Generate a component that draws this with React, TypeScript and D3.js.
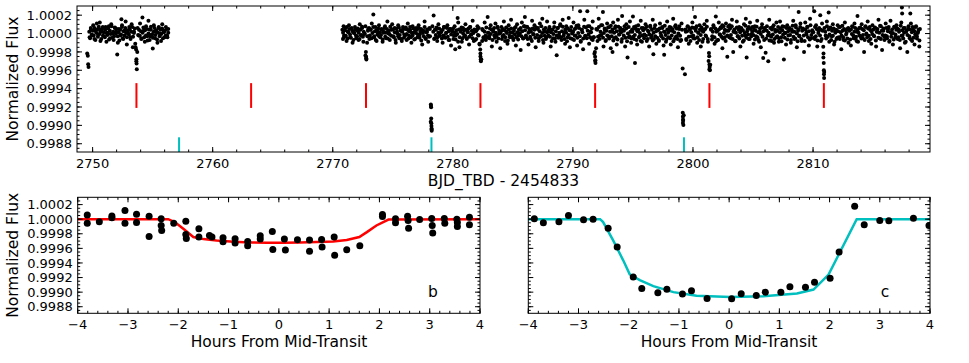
import React from "react";
import * as d3 from "d3";

// Light curve: [BJD_TBD - 2454833, flux offset in ppm]
const lightCurve: [number, number][] = [
  [2749.55, -217], [2749.6, -243], [2749.63, -334], [2749.66, -363], [2749.75, -40], [2749.85, 60], [2749.95, -20],
  [2750.05, 90], [2750.15, -60], [2750.25, 30], [2750.35, 110], [2750.45, -10], [2750.55, 50], [2750.6, 120], [2750.65, -80], [2750.75, 20], [2750.85, 70], [2750.95, -30],
  [2751.05, 40], [2751.15, -90], [2751.25, 10], [2751.35, 80], [2751.45, -50], [2751.55, 100], [2751.65, 0], [2751.75, -70], [2751.85, 60], [2751.95, 20],
  [2752.05, -228], [2752.1, -100], [2752.2, 50], [2752.3, -20], [2752.4, 155], [2752.45, 90], [2752.55, -60], [2752.65, 30], [2752.75, 130], [2752.85, -120], [2752.95, 10],
  [2753.05, 70], [2753.15, -40], [2753.25, 100], [2753.35, -150], [2753.45, 20], [2753.55, -110], [2753.62, -174], [2753.64, -301], [2753.66, -326], [2753.68, -388], [2753.75, 60], [2753.85, -20], [2753.95, 110],
  [2754.05, -60], [2754.15, 174], [2754.25, 30], [2754.35, -90], [2754.45, 80], [2754.55, -30], [2754.65, 140], [2754.75, -70], [2754.85, 40], [2754.95, -10],
  [2755.01, -163], [2755.1, 90], [2755.2, -50], [2755.3, 20], [2755.4, -100], [2755.5, 60], [2755.6, 0], [2755.7, -80], [2755.8, 100], [2755.9, 30],
  [2756.0, -40], [2756.1, 70], [2756.2, -20], [2756.3, 50],

  [2770.8, 40], [2770.85, -60], [2770.9, 80], [2770.95, -20],
  [2771.05, 60], [2771.15, -80], [2771.25, 20], [2771.35, 90], [2771.45, -40], [2771.55, 50], [2771.65, -100], [2771.75, 10], [2771.85, 70], [2771.95, -50],
  [2772.05, 30], [2772.15, -70], [2772.25, 100], [2772.35, -20], [2772.45, 60], [2772.55, -90], [2772.65, 0], [2772.72, 80], [2772.76, -200], [2772.78, -254], [2772.8, -283], [2772.88, -30], [2772.95, 50],
  [2773.05, -60], [2773.15, 40], [2773.25, 110], [2773.38, 207], [2773.45, -30], [2773.55, 70], [2773.65, -80], [2773.75, 20], [2773.85, 90], [2773.95, -40],
  [2774.05, 50], [2774.15, -90], [2774.25, 10], [2774.35, 80], [2774.45, -50], [2774.55, 130], [2774.65, 0], [2774.75, -70], [2774.85, 40], [2774.95, 100],
  [2775.05, -30], [2775.15, 60], [2775.25, -100], [2775.35, 20], [2775.45, 90], [2775.55, -50], [2775.65, 30], [2775.75, -80], [2775.85, 70], [2775.95, -10],
  [2776.05, 50], [2776.15, -70], [2776.25, 110], [2776.35, -20], [2776.45, 40], [2776.55, -100], [2776.65, 80], [2776.75, 10], [2776.85, -60], [2776.95, 60],
  [2777.05, -40], [2777.15, 90], [2777.25, -10], [2777.35, 50], [2777.45, -120], [2777.55, 30], [2777.65, 130], [2777.75, -60], [2777.85, 20], [2777.95, -90],
  [2778.05, 60], [2778.1, -30], [2778.17, -772], [2778.18, -790], [2778.19, -804], [2778.2, -924], [2778.21, -978], [2778.22, -1008], [2778.23, -1033], [2778.24, -1059],
  [2778.3, 80], [2778.4, 196], [2778.5, -50], [2778.6, 40], [2778.7, -80], [2778.8, 100], [2778.9, -20],
  [2779.05, 30], [2779.15, -100], [2779.25, 70], [2779.35, -40], [2779.45, 10], [2779.55, 90], [2779.65, -70], [2779.75, 50], [2779.85, -130], [2779.95, 20],
  [2780.05, -60], [2780.15, 80], [2780.2, -170], [2780.25, -20], [2780.4, 170], [2780.45, 120], [2780.55, -150], [2780.65, 40], [2780.75, -90], [2780.85, 60], [2780.95, -30],
  [2781.05, 100], [2781.15, -50], [2781.25, 20], [2781.35, -120], [2781.45, 70], [2781.55, -10], [2781.65, 140], [2781.75, -80], [2781.85, 30], [2781.95, -60],
  [2782.05, 80], [2782.15, -20], [2782.22, -110], [2782.28, -174], [2782.3, -217], [2782.32, -283], [2782.34, -301], [2782.45, 50], [2782.55, -40], [2782.65, 120], [2782.75, -70], [2782.9, 180], [2782.95, 10],
  [2783.05, -50], [2783.15, 90], [2783.25, -140], [2783.35, 40], [2783.45, -20], [2783.55, 110], [2783.65, -90], [2783.75, 60], [2783.85, 0], [2783.95, -160],
  [2784.05, 70], [2784.15, -30], [2784.25, 130], [2784.35, -80], [2784.45, 20], [2784.55, -110], [2784.65, 90], [2784.75, -40], [2784.85, 150], [2784.95, 10],
  [2785.05, -70], [2785.15, 60], [2785.25, -130], [2785.35, 100], [2785.45, -20], [2785.55, 40], [2785.65, -180], [2785.75, 120], [2785.85, -50], [2785.95, 80],
  [2786.0, 180], [2786.1, -40], [2786.2, 70], [2786.3, -120], [2786.4, 30], [2786.5, -60], [2786.6, 140], [2786.7, -10], [2786.8, 90], [2786.9, -150],
  [2787.05, 50], [2787.15, -80], [2787.25, 110], [2787.35, -30], [2787.45, 160], [2787.55, -100], [2787.65, 20], [2787.75, -60], [2787.85, 130], [2787.95, -20],
  [2788.05, 70], [2788.15, -140], [2788.25, 40], [2788.35, -50], [2788.45, 120], [2788.55, -90], [2788.65, -236], [2788.75, 60], [2788.85, -20], [2788.95, 100],
  [2789.05, -70], [2789.15, 150], [2789.25, 10], [2789.35, -110], [2789.45, 80], [2789.55, -40], [2789.65, 170], [2789.75, -150], [2789.85, 30], [2789.95, -60],
  [2790.05, 120], [2790.15, -20], [2790.25, 60], [2790.35, -130], [2790.45, 90], [2790.6, 242], [2790.65, -80], [2790.75, 40], [2790.85, -170], [2790.95, 150],
  [2791.05, -30], [2791.2, 242], [2791.25, 80], [2791.35, -110], [2791.45, 20], [2791.55, -60], [2791.65, 130], [2791.75, -40], [2791.83, -200], [2791.85, -254], [2791.87, -290], [2791.88, -320], [2791.95, 50],
  [2792.05, -80], [2792.15, 160], [2792.25, -20], [2792.35, 90], [2792.5, 236], [2792.55, -140], [2792.65, 40], [2792.75, -70], [2792.85, 110], [2792.95, -30],
  [2793.05, 70], [2793.15, -160], [2793.25, 20], [2793.3, -200], [2793.35, 120], [2793.45, -50], [2793.55, 80], [2793.65, -120], [2793.75, 150], [2793.85, -10], [2793.95, 60],
  [2794.05, -90], [2794.1, 192], [2794.25, 30], [2794.35, -140], [2794.45, 100], [2794.55, -262], [2794.65, -40], [2794.75, 130], [2794.85, -100], [2794.95, 20],
  [2795.0, 185], [2795.1, -60], [2795.17, -320], [2795.25, 80], [2795.35, -120], [2795.45, 40], [2795.55, -30], [2795.65, 140], [2795.75, -90], [2795.85, 60], [2795.95, -10],
  [2796.05, 100], [2796.15, -80], [2796.25, 30], [2796.35, -140], [2796.45, 70], [2796.55, -20], [2796.65, 150], [2796.7, -225], [2796.75, -60], [2796.85, 90], [2796.95, -110],
  [2797.05, 40], [2797.15, -70], [2797.25, 110], [2797.35, -20], [2797.45, 60], [2797.55, -130], [2797.6, -230], [2797.65, 20], [2797.75, -90], [2797.85, 130], [2797.95, -40],
  [2798.05, 70], [2798.15, -120], [2798.25, 30], [2798.35, 160], [2798.45, -60], [2798.55, 90], [2798.65, -30], [2798.75, -150], [2798.85, 50], [2798.95, -80],
  [2799.05, 110], [2799.14, -380], [2799.15, -863], [2799.16, -907], [2799.17, -935], [2799.18, -950], [2799.2, -997], [2799.33, -442],
  [2799.4, 20], [2799.45, -70], [2799.55, 80], [2799.65, -110], [2799.75, 40], [2799.85, -30], [2799.95, 120],
  [2800.05, -50], [2800.17, 180], [2800.25, 60], [2800.35, -100], [2800.45, 10], [2800.55, 90], [2800.65, -140], [2800.75, 30], [2800.85, -60], [2800.95, 100],
  [2801.05, -20], [2801.15, 140], [2801.25, -90], [2801.33, -211], [2801.35, -247], [2801.37, -337], [2801.39, -363], [2801.41, -399], [2801.5, 50], [2801.6, -30], [2801.7, 90], [2801.8, -110], [2801.9, 185], [2801.95, 20],
  [2802.05, -70], [2802.15, 120], [2802.25, -10], [2802.35, 60], [2802.45, -160], [2802.55, 80], [2802.65, -40], [2802.75, 110], [2802.86, -254], [2802.95, 30],
  [2803.05, 90], [2803.15, -50], [2803.25, 150], [2803.35, -200], [2803.45, 20], [2803.55, -80], [2803.65, 130], [2803.75, -30], [2803.85, 70], [2803.95, -140],
  [2804.05, 40], [2804.15, -90], [2804.25, 100], [2804.35, -20], [2804.4, 160], [2804.47, -262], [2804.55, 50], [2804.65, -60], [2804.75, 120], [2804.85, -10], [2804.95, 70],
  [2805.05, -110], [2805.15, 80], [2805.25, -30], [2805.35, 140], [2805.45, -70], [2805.55, 20], [2805.65, -150], [2805.75, 100], [2805.85, -265], [2805.95, 60],
  [2806.05, -210], [2806.15, 30], [2806.27, -301], [2806.35, 150], [2806.45, -20], [2806.55, -80], [2806.65, 70], [2806.75, -100], [2806.85, 40], [2806.95, 120],
  [2807.05, 30], [2807.15, -90], [2807.25, 130], [2807.35, -40], [2807.45, 80], [2807.57, -283], [2807.65, 10], [2807.75, -120], [2807.85, 90], [2807.95, -20],
  [2808.05, 60], [2808.15, -100], [2808.25, 20], [2808.35, 140], [2808.45, -60], [2808.55, 90], [2808.65, -150], [2808.75, 30], [2808.8, 235], [2808.85, -30], [2808.95, 110],
  [2809.05, -80], [2809.15, 40], [2809.25, -200], [2809.35, 120], [2809.45, -10], [2809.55, 70], [2809.65, -130], [2809.75, 160], [2809.85, -50], [2809.95, 20],
  [2810.1, 242], [2810.15, -60], [2810.25, 90], [2810.35, -140], [2810.45, 30], [2810.6, 200], [2810.65, -80], [2810.75, 110], [2810.85, -145], [2810.87, -217], [2810.89, -320], [2810.9, -399], [2810.91, -442], [2810.92, -483], [2810.95, 60],
  [2811.05, -20], [2811.15, 130], [2811.3, 230], [2811.35, -90], [2811.45, 60], [2811.55, -30], [2811.65, 100], [2811.75, -120], [2811.85, 20], [2811.95, -60],
  [2812.05, 90], [2812.15, -40], [2812.25, 70], [2812.35, -170], [2812.45, 30], [2812.55, -70], [2812.65, 120], [2812.75, -10], [2812.85, 50], [2812.95, -100],
  [2813.05, 40], [2813.15, -130], [2813.25, 80], [2813.35, -20], [2813.45, 110], [2813.55, -60], [2813.65, 20], [2813.7, 190], [2813.75, -90], [2813.85, 60], [2813.95, -30],
  [2814.05, 100], [2814.15, -50], [2814.25, -200], [2814.35, 70], [2814.45, -10], [2814.55, 130], [2814.65, -80], [2814.75, 40], [2814.85, -110], [2814.95, 90],
  [2815.05, -20], [2815.15, 60], [2815.25, -140], [2815.35, 20], [2815.45, 150], [2815.55, -50], [2815.65, 80], [2815.75, -180], [2815.85, 30], [2815.95, -70],
  [2816.05, 110], [2816.15, -30], [2816.25, 50], [2816.35, -90], [2816.45, 140], [2816.55, 0], [2816.65, -120], [2816.75, 70], [2816.85, -40], [2816.95, 90],
  [2817.05, -60], [2817.15, 40], [2817.25, -160], [2817.35, 120], [2817.4, 283], [2817.42, 217], [2817.45, -20], [2817.55, 60], [2817.65, -100], [2817.75, 20], [2817.85, -200], [2817.95, 80],
  [2818.05, -50], [2818.1, 217], [2818.15, 110], [2818.25, -80], [2818.35, 40], [2818.45, -120], [2818.55, 70], [2818.65, -30], [2818.75, 20], [2818.85, -140], [2818.9, 50],
];

// the dense core of the band, same units
const lightCurveCore: [number, number][] = [
  [2749.72,20],[2749.79,-50],[2749.86,40],[2749.93,-10],
  [2750.02,30],[2750.09,-20],[2750.16,60],[2750.23,-70],[2750.3,10],[2750.37,45],[2750.44,-35],[2750.51,75],[2750.58,-5],[2750.65,25],[2750.72,-60],[2750.79,50],[2750.86,-25],[2750.93,15],
  [2751.02,-40],[2751.09,70],[2751.16,5],[2751.23,-15],[2751.3,55],[2751.37,-65],[2751.44,30],[2751.51,-5],[2751.58,80],[2751.65,-45],[2751.72,20],[2751.79,-30],[2751.86,65],[2751.93,0],
  [2752.02,50],[2752.09,-30],[2752.16,15],[2752.23,-75],[2752.3,40],[2752.37,-10],[2752.44,70],[2752.51,-50],[2752.58,25],[2752.65,-20],[2752.72,60],[2752.79,5],[2752.86,-40],[2752.93,35],
  [2753.02,-10],[2753.09,45],[2753.16,-60],[2753.23,20],[2753.3,70],[2753.37,-35],[2753.44,5],[2753.51,55],[2753.58,-150],[2753.65,-280],[2753.72,-200],[2753.79,-15],[2753.86,40],[2753.93,-25],
  [2754.02,25],[2754.09,-55],[2754.16,10],[2754.23,65],[2754.3,-40],[2754.37,35],[2754.44,-20],[2754.51,50],[2754.58,-75],[2754.65,0],[2754.72,45],[2754.79,-30],[2754.86,75],[2754.93,-10],
  [2755.02,-45],[2755.09,20],[2755.16,60],[2755.23,-15],[2755.3,35],[2755.37,-65],[2755.44,10],[2755.51,70],[2755.58,-30],[2755.65,40],[2755.72,-5],[2755.79,55],[2755.86,-50],[2755.93,15],
  [2756.02,30],[2756.09,-20],[2756.16,50],[2756.23,-40],[2756.3,10],

  [2770.86,10],[2770.93,-40],
  [2771.02,35],[2771.09,-25],[2771.16,70],[2771.23,-55],[2771.3,15],[2771.37,50],[2771.44,-10],[2771.51,-45],[2771.58,60],[2771.65,25],[2771.72,-70],[2771.79,5],[2771.86,40],[2771.93,-20],
  [2772.02,-30],[2772.09,55],[2772.16,10],[2772.23,-60],[2772.3,40],[2772.37,-15],[2772.44,75],[2772.51,-35],[2772.58,20],[2772.65,-5],[2772.72,-240],[2772.79,-270],[2772.86,-100],[2772.93,30],
  [2773.02,60],[2773.09,-20],[2773.16,45],[2773.23,-50],[2773.3,5],[2773.37,70],[2773.44,-40],[2773.51,25],[2773.58,-70],[2773.65,35],[2773.72,-10],[2773.79,55],[2773.86,-30],[2773.93,15],
  [2774.02,-15],[2774.09,40],[2774.16,-65],[2774.23,20],[2774.3,60],[2774.37,-35],[2774.44,10],[2774.51,50],[2774.58,-55],[2774.65,30],[2774.72,-5],[2774.79,75],[2774.86,-25],[2774.93,45],
  [2775.02,45],[2775.09,-40],[2775.16,15],[2775.23,-70],[2775.3,55],[2775.37,0],[2775.44,-30],[2775.51,65],[2775.58,-15],[2775.65,35],[2775.72,-60],[2775.79,20],[2775.86,50],[2775.93,-45],
  [2776.02,-25],[2776.09,65],[2776.16,-5],[2776.23,40],[2776.3,-55],[2776.37,25],[2776.44,70],[2776.51,-40],[2776.58,10],[2776.65,-20],[2776.72,55],[2776.79,-65],[2776.86,30],[2776.93,5],
  [2777.02,40],[2777.09,-10],[2777.16,60],[2777.23,-45],[2777.3,20],[2777.37,-75],[2777.44,35],[2777.51,5],[2777.58,-30],[2777.65,70],[2777.72,-50],[2777.79,15],[2777.86,45],[2777.93,-20],
  [2778.02,-35],[2778.09,50],[2778.16,-960],[2778.23,-1045],[2778.37,20],[2778.44,-60],[2778.51,45],[2778.58,-15],[2778.65,65],[2778.72,-40],[2778.79,10],[2778.86,55],[2778.93,-25],
  [2779.02,15],[2779.09,-55],[2779.16,40],[2779.23,-20],[2779.3,70],[2779.37,-45],[2779.44,5],[2779.51,60],[2779.58,-35],[2779.65,25],[2779.72,-70],[2779.79,50],[2779.86,-10],[2779.93,30],
  [2780.02,55],[2780.09,-25],[2780.16,10],[2780.23,-65],[2780.3,35],[2780.37,-5],[2780.44,-90],[2780.51,45],[2780.58,-40],[2780.65,20],[2780.72,65],[2780.79,-55],[2780.86,0],[2780.93,35],
  [2781.02,-20],[2781.09,40],[2781.16,-60],[2781.23,15],[2781.3,55],[2781.37,-35],[2781.44,70],[2781.51,-10],[2781.58,30],[2781.65,-50],[2781.72,5],[2781.79,45],[2781.86,-70],[2781.93,25],
  [2782.02,45],[2782.09,-15],[2782.16,60],[2782.23,-120],[2782.3,-250],[2782.37,-280],[2782.44,-80],[2782.51,35],[2782.58,-50],[2782.65,20],[2782.72,-25],[2782.79,65],[2782.86,-40],[2782.93,10],
  [2783.02,-30],[2783.09,55],[2783.16,-5],[2783.23,40],[2783.3,-70],[2783.37,20],[2783.44,60],[2783.51,-45],[2783.58,10],[2783.65,-20],[2783.72,75],[2783.79,-55],[2783.86,30],[2783.93,0],
  [2784.02,25],[2784.09,-60],[2784.16,50],[2784.23,-15],[2784.3,35],[2784.37,-40],[2784.44,65],[2784.51,5],[2784.58,-75],[2784.65,45],[2784.72,-25],[2784.79,15],[2784.86,55],[2784.93,-35],
  [2785.02,-50],[2785.09,30],[2785.16,-10],[2785.23,70],[2785.3,-40],[2785.37,15],[2785.44,-65],[2785.51,45],[2785.58,0],[2785.65,60],[2785.72,-30],[2785.79,25],[2785.86,-55],[2785.93,80],
  [2786.02,35],[2786.09,-20],[2786.16,75],[2786.23,-60],[2786.3,10],[2786.37,50],[2786.44,-35],[2786.51,20],[2786.58,-80],[2786.65,55],[2786.72,-5],[2786.79,40],[2786.86,-45],[2786.93,65],
  [2787.02,-15],[2787.09,60],[2787.16,-50],[2787.23,25],[2787.3,-30],[2787.37,80],[2787.44,5],[2787.51,-70],[2787.58,45],[2787.65,-25],[2787.72,60],[2787.79,-40],[2787.86,15],[2787.93,30],
  [2788.02,50],[2788.09,-35],[2788.16,15],[2788.23,-80],[2788.3,40],[2788.37,-5],[2788.44,70],[2788.51,-55],[2788.58,25],[2788.65,-20],[2788.72,60],[2788.79,-45],[2788.86,10],[2788.93,85],
  [2789.02,-40],[2789.09,25],[2789.16,75],[2789.23,-20],[2789.3,-60],[2789.37,45],[2789.44,10],[2789.51,-85],[2789.58,55],[2789.65,-15],[2789.72,35],[2789.79,-50],[2789.86,70],[2789.93,0],
  [2790.02,20],[2790.09,-70],[2790.16,50],[2790.23,-25],[2790.3,85],[2790.37,-45],[2790.44,5],[2790.51,60],[2790.58,-30],[2790.65,-90],[2790.72,40],[2790.79,15],[2790.86,-55],[2790.93,75],
  [2791.02,-25],[2791.09,65],[2791.16,-50],[2791.23,30],[2791.3,-10],[2791.37,80],[2791.44,-40],[2791.51,15],[2791.58,55],[2791.65,-70],[2791.72,-40],[2791.79,-220],[2791.86,-300],[2791.93,-160],
  [2792.02,40],[2792.09,-35],[2792.16,70],[2792.23,-60],[2792.3,20],[2792.37,-15],[2792.44,90],[2792.51,-45],[2792.58,5],[2792.65,55],[2792.72,-80],[2792.79,30],[2792.86,-20],[2792.93,65],
  [2793.02,-55],[2793.09,20],[2793.16,85],[2793.23,-30],[2793.3,45],[2793.37,-75],[2793.44,10],[2793.51,60],[2793.58,-40],[2793.65,25],[2793.72,-65],[2793.79,75],[2793.86,-10],[2793.93,35],
  [2794.02,15],[2794.09,-60],[2794.16,40],[2794.23,-20],[2794.3,80],[2794.37,-45],[2794.44,55],[2794.51,-85],[2794.58,0],[2794.65,70],[2794.72,-30],[2794.79,20],[2794.86,-55],[2794.93,45],
  [2795.02,-35],[2795.09,70],[2795.16,-15],[2795.23,50],[2795.3,-70],[2795.37,25],[2795.44,90],[2795.51,-40],[2795.58,5],[2795.65,-80],[2795.72,60],[2795.79,-20],[2795.86,35],[2795.93,-50],
  [2796.02,55],[2796.09,-25],[2796.16,75],[2796.23,-60],[2796.3,20],[2796.37,-10],[2796.44,85],[2796.51,-45],[2796.58,40],[2796.65,-75],[2796.72,10],[2796.79,60],[2796.86,-30],[2796.93,25],
  [2797.02,-45],[2797.09,35],[2797.16,-80],[2797.23,55],[2797.3,5],[2797.37,-30],[2797.44,70],[2797.51,-55],[2797.58,20],[2797.65,85],[2797.72,-15],[2797.79,-65],[2797.86,45],[2797.93,10],
  [2798.02,30],[2798.09,-50],[2798.16,65],[2798.23,-20],[2798.3,45],[2798.37,-85],[2798.44,15],[2798.51,75],[2798.58,-35],[2798.65,55],[2798.72,-60],[2798.79,0],[2798.86,80],[2798.93,-25],
  [2799.02,-70],[2799.09,40],[2799.16,-975],[2799.23,-890],[2799.37,45],[2799.44,-60],[2799.51,25],[2799.58,75],[2799.65,-35],[2799.72,55],[2799.79,-80],[2799.86,15],[2799.93,65],
  [2800.02,-20],[2800.09,60],[2800.16,-55],[2800.23,30],[2800.3,80],[2800.37,-40],[2800.44,10],[2800.51,-70],[2800.58,45],[2800.65,-15],[2800.72,65],[2800.79,-90],[2800.86,20],[2800.93,40],
  [2801.02,50],[2801.09,-30],[2801.16,75],[2801.23,-60],[2801.3,-300],[2801.37,-390],[2801.44,-340],[2801.51,40],[2801.58,-65],[2801.65,20],[2801.72,70],[2801.79,-40],[2801.86,55],[2801.93,-85],
  [2802.02,25],[2802.09,-70],[2802.16,45],[2802.23,-10],[2802.3,65],[2802.37,-35],[2802.44,90],[2802.51,-55],[2802.58,5],[2802.65,40],[2802.72,-80],[2802.79,30],[2802.86,-20],[2802.93,75],
  [2803.02,-40],[2803.09,55],[2803.16,-15],[2803.23,80],[2803.3,-60],[2803.37,20],[2803.44,45],[2803.51,-85],[2803.58,10],[2803.65,65],[2803.72,-30],[2803.79,40],[2803.86,-55],[2803.93,15],
  [2804.02,60],[2804.09,-25],[2804.16,35],[2804.23,-75],[2804.3,5],[2804.37,85],[2804.44,-45],[2804.51,25],[2804.58,-10],[2804.65,70],[2804.72,-60],[2804.79,50],[2804.86,-30],[2804.93,20],
  [2805.02,-15],[2805.09,45],[2805.16,-65],[2805.23,30],[2805.3,75],[2805.37,-40],[2805.44,15],[2805.51,-90],[2805.58,55],[2805.65,-5],[2805.72,65],[2805.79,-35],[2805.86,25],[2805.93,-70],
  [2806.02,40],[2806.09,-55],[2806.16,80],[2806.23,-20],[2806.3,10],[2806.37,-75],[2806.44,60],[2806.51,-35],[2806.58,45],[2806.65,-10],[2806.72,90],[2806.79,-60],[2806.86,20],[2806.93,-40],
  [2807.02,-30],[2807.09,70],[2807.16,-50],[2807.23,15],[2807.3,55],[2807.37,-85],[2807.44,35],[2807.51,-10],[2807.58,75],[2807.65,-45],[2807.72,5],[2807.79,60],[2807.86,-65],[2807.93,25],
  [2808.02,50],[2808.09,-15],[2808.16,-70],[2808.23,40],[2808.3,85],[2808.37,-35],[2808.44,20],[2808.51,-55],[2808.58,65],[2808.65,0],[2808.72,-85],[2808.79,45],[2808.86,-25],[2808.93,70],
  [2809.02,-60],[2809.09,30],[2809.16,55],[2809.23,-20],[2809.3,-80],[2809.37,45],[2809.44,10],[2809.51,75],[2809.58,-40],[2809.65,25],[2809.72,-65],[2809.79,90],[2809.86,-15],[2809.93,35],
  [2810.02,15],[2810.09,-45],[2810.16,70],[2810.23,-30],[2810.3,50],[2810.37,-75],[2810.44,5],[2810.51,60],[2810.58,-20],[2810.65,40],[2810.72,-60],[2810.79,30],[2810.86,-260],[2810.93,-420],
  [2811.02,20],[2811.09,-55],[2811.16,80],[2811.23,-35],[2811.3,45],[2811.37,-10],[2811.44,65],[2811.51,-70],[2811.58,30],[2811.65,-25],[2811.72,55],[2811.79,-90],[2811.86,10],[2811.93,40],
  [2812.02,-45],[2812.09,25],[2812.16,70],[2812.23,-60],[2812.3,15],[2812.37,-20],[2812.44,85],[2812.51,-40],[2812.58,50],[2812.65,-75],[2812.72,35],[2812.79,5],[2812.86,-55],[2812.93,60],
  [2813.02,30],[2813.09,-65],[2813.16,45],[2813.23,-5],[2813.3,75],[2813.37,-50],[2813.44,20],[2813.51,60],[2813.58,-35],[2813.65,-85],[2813.72,40],[2813.79,10],[2813.86,-20],[2813.93,65],
  [2814.02,-55],[2814.09,50],[2814.16,-15],[2814.23,35],[2814.3,-70],[2814.37,80],[2814.44,0],[2814.51,-40],[2814.58,55],[2814.65,-25],[2814.72,70],[2814.79,-60],[2814.86,25],[2814.93,-5],
  [2815.02,45],[2815.09,-30],[2815.16,65],[2815.23,-75],[2815.3,20],[2815.37,50],[2815.44,-45],[2815.51,10],[2815.58,85],[2815.65,-60],[2815.72,30],[2815.79,-15],[2815.86,55],[2815.93,-35],
  [2816.02,-20],[2816.09,60],[2816.16,-50],[2816.23,25],[2816.3,70],[2816.37,-80],[2816.44,15],[2816.51,-35],[2816.58,45],[2816.65,5],[2816.72,-65],[2816.79,75],[2816.86,-10],[2816.93,40],
  [2817.02,55],[2817.09,-40],[2817.16,20],[2817.23,-70],[2817.3,85],[2817.37,-25],[2817.44,35],[2817.51,-55],[2817.58,10],[2817.65,60],[2817.72,-90],[2817.79,30],[2817.86,-15],[2817.93,50],
  [2818.02,-30],[2818.09,45],[2818.16,-65],[2818.23,15],[2818.3,70],[2818.37,-45],[2818.44,25],[2818.51,-10],[2818.58,80],[2818.65,-55],[2818.72,5],[2818.79,40],[2818.86,-75],
];

// transit epochs marked under the light curve
const transitsB = [2753.65, 2763.2, 2772.77, 2782.3, 2791.85, 2801.37, 2810.9];
const transitsC = [2757.2, 2778.22, 2799.25];

// phase-folded data, [hours from mid-transit, normalized flux]
const foldedB: [number, number][] = [
  [-3.81, 1.000059], [-3.81, 0.999945], [-3.57, 0.999964], [-3.32, 1.000045], [-3.32, 1.00002],
  [-3.06, 1.000118], [-3.06, 0.999945], [-2.83, 1.000068], [-2.83, 0.999955], [-2.58, 1.000041],
  [-2.58, 0.999764], [-2.34, 1.000005], [-2.34, 0.999914], [-2.33, 0.999845], [-2.09, 0.999945],
  [-1.85, 0.999973], [-1.85, 0.99979], [-1.84, 0.999736], [-1.59, 0.999868], [-1.59, 0.999755],
  [-1.38, 0.999777], [-1.33, 0.999755], [-1.11, 0.999745], [-1.11, 0.99969], [-0.87, 0.999732],
  [-0.87, 0.999673], [-0.62, 0.999695], [-0.62, 0.999636], [-0.37, 0.999773], [-0.37, 0.999727],
  [-0.13, 0.999832], [-0.12, 0.999586], [0.11, 0.999727], [0.13, 0.999577], [0.37, 0.999718],
  [0.61, 0.999714], [0.61, 0.999559], [0.85, 0.999723], [0.86, 0.999618], [1.1, 0.999755],
  [1.11, 0.999505], [1.35, 0.999582], [1.61, 0.999636], [2.06, 1.000064], [2.06, 1.000036],
  [2.32, 1.000005], [2.32, 0.99995], [2.56, 1.000041], [2.57, 0.999982], [2.58, 0.999877],
  [2.8, 0.999995], [3.04, 1.000009], [3.05, 0.999914], [3.06, 0.999809], [3.29, 1.000009],
  [3.3, 0.999945], [3.54, 1.0], [3.55, 0.999955], [3.55, 0.9999], [3.79, 1.000027], [3.79, 0.999923],
];

const modelB: [number, number][] = [
  [-4, 1.0], [-2.2, 1.0], [-2.07, 0.99996], [-1.9, 0.999868], [-1.7, 0.999755], [-1.5, 0.999727],
  [-1.24, 0.999709], [-0.9, 0.999691], [-0.57, 0.999682], [-0.24, 0.999677], [0.09, 0.999677],
  [0.42, 0.999682], [0.75, 0.999686], [1.08, 0.999695], [1.35, 0.999714], [1.6, 0.999755],
  [1.75, 0.999823], [1.94, 0.999914], [2.18, 0.999995], [4, 1.0],
];

const foldedC: [number, number][] = [
  [-3.88, 1.000005], [-3.7, 0.99995], [-3.39, 0.999964], [-3.2, 1.00005], [-2.9, 0.999991],
  [-2.71, 1.0], [-2.41, 0.999877], [-2.23, 0.999618], [-1.91, 0.999209], [-1.74, 0.99905],
  [-1.42, 0.998991], [-1.24, 0.999041], [-0.93, 0.998973], [-0.75, 0.999018], [-0.44, 0.998914],
  [0.05, 0.998909], [0.24, 0.998977], [0.54, 0.998955], [0.72, 0.999], [1.03, 0.999],
  [1.21, 0.999073], [1.52, 0.999068], [1.7, 0.999136], [2.01, 0.999191], [2.19, 0.99955],
  [2.5, 1.000177], [2.69, 0.999923], [3.0, 0.999982], [3.18, 0.999977], [3.67, 1.000014], [3.98, 0.999914],
];

const modelC: [number, number][] = [
  [-4, 1.0], [-2.57, 1.0], [-2.51, 0.99996], [-2.31, 0.99971], [-2.11, 0.999436], [-1.98, 0.999245],
  [-1.78, 0.999164], [-1.51, 0.999082], [-1.11, 0.999], [-0.65, 0.99895], [0.02, 0.998932],
  [0.68, 0.998945], [1.35, 0.998982], [1.68, 0.999036], [1.98, 0.999241], [2.54, 1.0], [4, 1.0],
];

const dayTicks = [2750, 2760, 2770, 2780, 2790, 2800, 2810];
const hourTicks = [-4, -3, -2, -1, 0, 1, 2, 3, 4];
const fluxTicks = [0.9988, 0.999, 0.9992, 0.9994, 0.9996, 0.9998, 1.0, 1.0002];

const FONT = "'DejaVu Sans', sans-serif";
const RED = "#ff0000";
const CYAN = "#00bfbf";

type Scale = d3.ScaleLinear<number, number>;

function Frame({
  x, y, xMajor, xMinor, yMajor, yMinor, xFmt, yFmt, id,
}: {
  x: Scale; y: Scale; xMajor: number[]; xMinor: number[]; yMajor: number[]; yMinor: number[];
  xFmt: (v: number) => string; yFmt: ((v: number) => string) | null; id: string;
}) {
  const [x0, x1] = x.range();
  const [y1, y0] = y.range();
  const xt = (vals: number[], len: number) =>
    vals.map((v) => (
      <g key={`${id}x${len}${v}`}>
        <line x1={x(v)} x2={x(v)} y1={y1} y2={y1 - len} stroke="#000" />
        <line x1={x(v)} x2={x(v)} y1={y0} y2={y0 + len} stroke="#000" />
      </g>
    ));
  const yt = (vals: number[], len: number) =>
    vals.map((v) => (
      <g key={`${id}y${len}${v}`}>
        <line x1={x0} x2={x0 + len} y1={y(v)} y2={y(v)} stroke="#000" />
        <line x1={x1} x2={x1 - len} y1={y(v)} y2={y(v)} stroke="#000" />
      </g>
    ));
  return (
    <g>
      {xt(xMinor, 2.5)}
      {xt(xMajor, 5)}
      {yt(yMinor, 2.5)}
      {yt(yMajor, 5)}
      <rect x={x0} y={y0} width={x1 - x0} height={y1 - y0} fill="none" stroke="#000" strokeWidth={1} />
      {xMajor.map((v) => (
        <text key={`${id}xl${v}`} x={x(v)} y={y1 + 16} textAnchor="middle" fontSize={13} fontFamily={FONT}>
          {xFmt(v)}
        </text>
      ))}
      {yFmt &&
        yMajor.map((v) => (
          <text key={`${id}yl${v}`} x={x0 - 5} y={y(v)} dy="0.36em" textAnchor="end" fontSize={13} fontFamily={FONT}>
            {yFmt(v)}
          </text>
        ))}
    </g>
  );
}

export default function App() {
  const W = 969;
  const H = 363;

  const xTop = d3.scaleLinear().domain([2748.7, 2819.74]).range([77, 930]);
  const yTop = d3.scaleLinear().domain([0.99871, 1.0003]).range([152, 6]);
  const xB = d3.scaleLinear().domain([-4, 4]).range([77.7, 480]);
  const xC = d3.scaleLinear().domain([-4, 4]).range([528.3, 930]);
  const yBot = d3.scaleLinear().domain([0.99871, 1.0003]).range([313.3, 197.3]);

  const fluxMinor = d3.range(19975, 20006).map((k) => k / 20000).filter((v) => v > 0.99871 && v < 1.0003);
  const dayMinor = d3.range(1375, 1410).map((k) => k * 2);
  const hourMinor = d3.range(-20, 21).map((k) => k / 5);
  const fmtFlux = d3.format(".4f");
  const fmtInt = d3.format("d");

  const lineB = d3.line<[number, number]>().x((d) => xB(d[0])).y((d) => yBot(d[1]));
  const lineC = d3.line<[number, number]>().x((d) => xC(d[0])).y((d) => yBot(d[1]));

  const ppm = (v: number) => 1 + v * 1e-6;
  const allPoints = [...lightCurveCore, ...lightCurve];

  return (
    <svg width={W} height={H} style={{ position: "absolute", left: 0, top: 0, background: "#fff" }}>
      <defs>
        <clipPath id="clipTop">
          <rect x={77} y={6} width={853} height={146} />
        </clipPath>
        <clipPath id="clipB">
          <rect x={77.7} y={197.3} width={402.3} height={116} />
        </clipPath>
        <clipPath id="clipC">
          <rect x={528.3} y={197.3} width={401.7} height={116} />
        </clipPath>
      </defs>

      {/* top: full light curve */}
      <g clipPath="url(#clipTop)">
        {allPoints.map(([t, v], i) => (
          <circle key={i} cx={xTop(t)} cy={yTop(ppm(v))} r={2} fill="#000" />
        ))}
        {transitsB.map((t) => (
          <line key={`b${t}`} x1={xTop(t)} x2={xTop(t)} y1={yTop(0.99946)} y2={yTop(0.99919)} stroke={RED} strokeWidth={2} />
        ))}
        {transitsC.map((t) => (
          <line key={`c${t}`} x1={xTop(t)} x2={xTop(t)} y1={yTop(0.99887)} y2={yTop(0.99871)} stroke={CYAN} strokeWidth={2} />
        ))}
      </g>
      <Frame
        id="top"
        x={xTop}
        y={yTop}
        xMajor={dayTicks}
        xMinor={dayMinor}
        yMajor={fluxTicks}
        yMinor={fluxMinor}
        xFmt={fmtInt}
        yFmt={fmtFlux}
      />
      <text x={503.5} y={186} textAnchor="middle" fontSize={15.5} fontFamily={FONT}>
        BJD_TBD - 2454833
      </text>
      <text transform="translate(18,79) rotate(-90)" textAnchor="middle" fontSize={15.5} fontFamily={FONT}>
        Normalized Flux
      </text>

      {/* bottom left: planet b folded */}
      <g clipPath="url(#clipB)">
        <path d={lineB(modelB) ?? ""} fill="none" stroke={RED} strokeWidth={2.5} />
        {foldedB.map(([h, f], i) => (
          <circle key={i} cx={xB(h)} cy={yBot(f)} r={3.5} fill="#000" />
        ))}
      </g>
      <Frame id="b" x={xB} y={yBot} xMajor={hourTicks} xMinor={hourMinor} yMajor={fluxTicks} yMinor={fluxMinor} xFmt={fmtInt} yFmt={fmtFlux} />
      <text x={433} y={297} textAnchor="middle" fontSize={15.5} fontFamily={FONT}>b</text>
      <text x={279} y={347} textAnchor="middle" fontSize={15.5} fontFamily={FONT}>
        Hours From Mid-Transit
      </text>
      <text transform="translate(18,255.3) rotate(-90)" textAnchor="middle" fontSize={15.5} fontFamily={FONT}>
        Normalized Flux
      </text>

      {/* bottom right: planet c folded */}
      <g clipPath="url(#clipC)">
        <path d={lineC(modelC) ?? ""} fill="none" stroke={CYAN} strokeWidth={2.5} />
        {foldedC.map(([h, f], i) => (
          <circle key={i} cx={xC(h)} cy={yBot(f)} r={3.5} fill="#000" />
        ))}
      </g>
      <Frame id="c" x={xC} y={yBot} xMajor={hourTicks} xMinor={hourMinor} yMajor={fluxTicks} yMinor={fluxMinor} xFmt={fmtInt} yFmt={null} />
      <text x={885} y={297} textAnchor="middle" fontSize={15.5} fontFamily={FONT}>c</text>
      <text x={729} y={347} textAnchor="middle" fontSize={15.5} fontFamily={FONT}>
        Hours From Mid-Transit
      </text>
    </svg>
  );
}
